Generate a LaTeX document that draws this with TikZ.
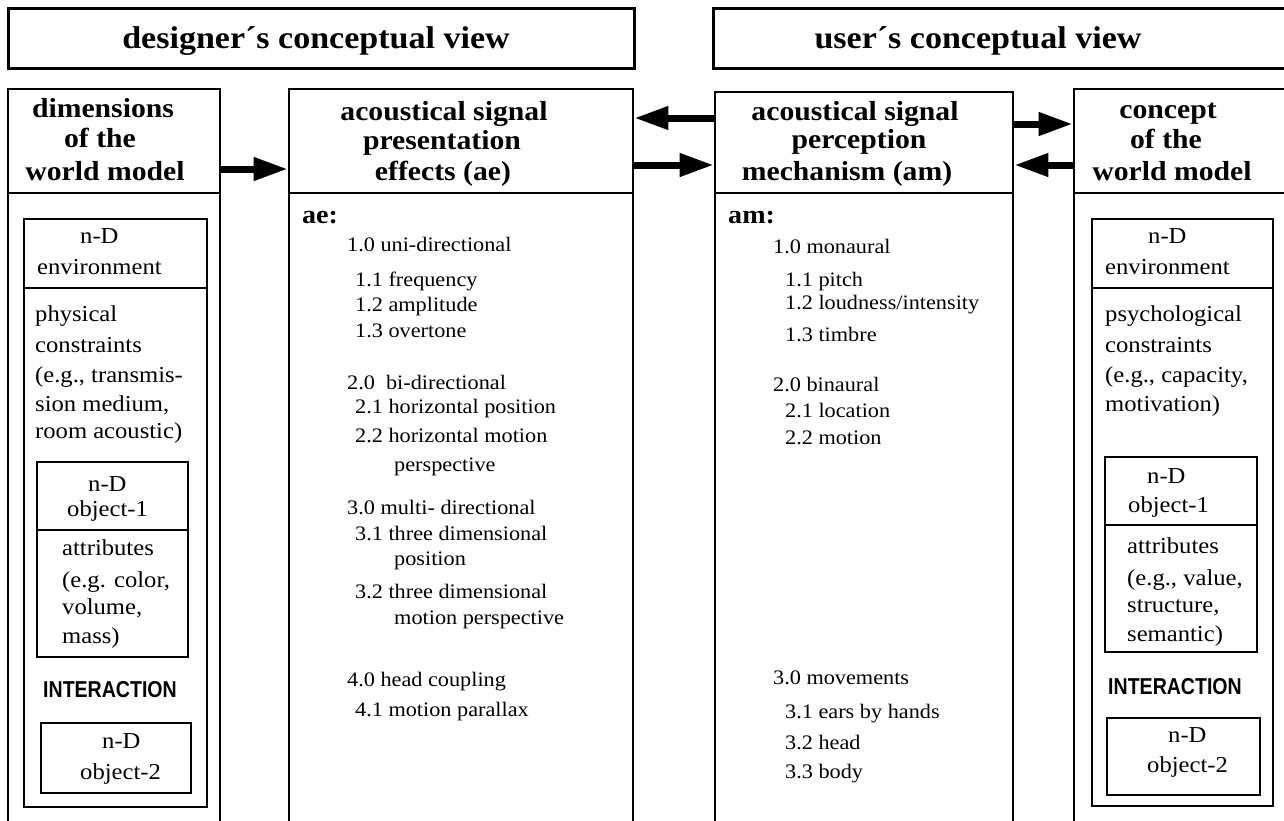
\documentclass[tikz,border=0pt]{standalone}
\usepackage{fontspec}
\setmainfont{Liberation Serif}[FakeStretch=1.08]
\newfontfamily\narrowsans{Liberation Sans}[FakeStretch=0.85]
\usetikzlibrary{arrows.meta, fit}

\begin{document}
\begin{tikzpicture}[
    x=1pt, y=-1pt,
    boxframe/.style={draw, line width=2.6pt, inner sep=0pt},
    titletxt/.style={anchor=base, inner sep=0pt, font=\bfseries\fontsize{31.5}{36}\selectfont},
    headtxt/.style={anchor=base, inner sep=0pt, font=\bfseries\fontsize{27.5}{31}\selectfont},
    tagtxt/.style={anchor=base west, inner sep=0pt, font=\bfseries\fontsize{26}{30}\selectfont},
    entry/.style={anchor=base west, inner sep=0pt, font=\fontsize{20.6}{24}\selectfont},
    coltxt/.style={anchor=base west, inner sep=0pt, font=\fontsize{22.8}{27}\selectfont},
    capstxt/.style={anchor=base west, inner sep=0pt, font=\narrowsans\bfseries\fontsize{23}{27}\selectfont},
    flow/.style={line width=7pt, -{Triangle[length=34pt, width=22pt]}}
]
    \useasboundingbox (0,0) rectangle (1284,820);
    \clip (0,0) rectangle (1284,820);

    % Title boxes
    \node[boxframe, line width=3pt, fit={(8,8) (634,68)}] (dview) {};
    \node[boxframe, line width=3pt, fit={(713,8) (1310,68)}] (uview) {};
    \node[titletxt] (dtitle) at (316,48) {designer´s conceptual view};
    \node[titletxt] (utitle) at (978,48) {user´s conceptual view};

    % Column headers
    \node[boxframe, fit={(8,89) (220,193)}] (dimhead) {};
    \node[boxframe, fit={(289,89) (633,193)}] (aehead) {};
    \node[boxframe, fit={(715,92) (1013,193)}] (amhead) {};
    \node[boxframe, fit={(1074,89) (1310,193)}] (conhead) {};
    \node[headtxt] (dim1) at (103,117) {dimensions};
    \node[headtxt] (dim2) at (100,147) {of the};
    \node[headtxt] (dim3) at (105,180) {world model};
    \node[headtxt] (aeh1) at (444,120) {acoustical signal};
    \node[headtxt] (aeh2) at (442,149) {presentation};
    \node[headtxt] (aeh3) at (443,180) {effects (ae)};
    \node[headtxt] (amh1) at (855,120) {acoustical signal};
    \node[headtxt] (amh2) at (859,148) {perception};
    \node[headtxt] (amh3) at (847,180) {mechanism (am)};
    \node[headtxt] (con1) at (1168,118) {concept};
    \node[headtxt] (con2) at (1166,148) {of the};
    \node[headtxt] (con3) at (1172,180) {world model};

    % Column bodies (open at the bottom)
    \node[boxframe, fit={(8,193) (220,850)}] (dimbody) {};
    \node[boxframe, fit={(289,193) (633,850)}] (aebody) {};
    \node[boxframe, fit={(715,193) (1013,850)}] (ambody) {};
    \node[boxframe, fit={(1074,193) (1310,850)}] (conbody) {};

    % Connections between the columns
    \draw[flow] (dimhead.east |- 0,169) -- (aehead.west |- 0,169);
    \draw[flow] (amhead.west |- 0,118) -- (aehead.east |- 0,118);
    \draw[flow] (aehead.east |- 0,165) -- (amhead.west |- 0,165);
    \draw[flow] (amhead.east |- 0,124) -- (conhead.west |- 0,124);
    \draw[flow] (conhead.west |- 0,165) -- (amhead.east |- 0,165);

    % Designer's world model
    \node[boxframe, fit={(24,219) (207,807)}] (dimin) {};
    \node[boxframe, fit={(24,219) (207,288)}] (denv) {};
    \node[coltxt] (denv1) at (80,243) {n-D};
    \node[coltxt] (denv2) at (37,274) {environment};
    \node[coltxt] (phy1) at (35,321) {physical};
    \node[coltxt] (phy2) at (35,352) {constraints};
    \node[coltxt] (phy3) at (35,382) {(e.g., transmis-};
    \node[coltxt] (phy4) at (35,411) {sion medium,};
    \node[coltxt] (phy5) at (35,438) {room acoustic)};
    \node[boxframe, fit={(37,462) (188,530)}] (dobj1) {};
    \node[boxframe, fit={(37,530) (188,657)}] (dattr) {};
    \node[coltxt] (dobj1a) at (88,491) {n-D};
    \node[coltxt] (dobj1b) at (67,516) {object-1};
    \node[coltxt] (dattr1) at (62,555) {attributes};
    \node[coltxt] (dattr2) at (62,587) {(e.g. color,};
    \node[coltxt] (dattr3) at (62,614) {volume,};
    \node[coltxt] (dattr4) at (62,643) {mass)};
    \node[capstxt] (dint) at (43,697) {INTERACTION};
    \node[boxframe, fit={(41,723) (191,793)}] (dobj2) {};
    \node[coltxt] (dobj2a) at (102,748) {n-D};
    \node[coltxt] (dobj2b) at (80,779) {object-2};

    % Presentation effects
    \node[tagtxt] (aetag) at (302,223) {ae:};
    \node[entry] (ae10) at (347,251) {1.0 uni-directional};
    \node[entry] (ae11) at (355,286) {1.1 frequency};
    \node[entry] (ae12) at (355,311) {1.2 amplitude};
    \node[entry] (ae13) at (355,337) {1.3 overtone};
    \node[entry] (ae20) at (347,389) {2.0~ bi-directional};
    \node[entry] (ae21) at (355,413) {2.1 horizontal position};
    \node[entry] (ae22) at (355,442) {2.2 horizontal motion};
    \node[entry] (ae22b) at (394,471) {perspective};
    \node[entry] (ae30) at (347,514) {3.0 multi- directional};
    \node[entry] (ae31) at (355,540) {3.1 three dimensional};
    \node[entry] (ae31b) at (394,565) {position};
    \node[entry] (ae32) at (355,598) {3.2 three dimensional};
    \node[entry] (ae32b) at (394,624) {motion perspective};
    \node[entry] (ae40) at (347,686) {4.0 head coupling};
    \node[entry] (ae41) at (355,716) {4.1 motion parallax};

    % Perception mechanism
    \node[tagtxt] (amtag) at (728,223) {am:};
    \node[entry] (am10) at (773,253) {1.0 monaural};
    \node[entry] (am11) at (785,286) {1.1 pitch};
    \node[entry] (am12) at (785,309) {1.2 loudness/intensity};
    \node[entry] (am13) at (785,341) {1.3 timbre};
    \node[entry] (am20) at (773,391) {2.0 binaural};
    \node[entry] (am21) at (785,417) {2.1 location};
    \node[entry] (am22) at (785,444) {2.2 motion};
    \node[entry] (am30) at (773,684) {3.0 movements};
    \node[entry] (am31) at (785,718) {3.1 ears by hands};
    \node[entry] (am32) at (785,749) {3.2 head};
    \node[entry] (am33) at (785,778) {3.3 body};

    % User's world model
    \node[boxframe, fit={(1092,219) (1273,806)}] (conin) {};
    \node[boxframe, fit={(1092,219) (1273,288)}] (uenv) {};
    \node[coltxt] (uenv1) at (1148,243) {n-D};
    \node[coltxt] (uenv2) at (1105,274) {environment};
    \node[coltxt] (psy1) at (1105,321) {psychological};
    \node[coltxt] (psy2) at (1105,352) {constraints};
    \node[coltxt] (psy3) at (1105,382) {(e.g., capacity,};
    \node[coltxt] (psy4) at (1105,411) {motivation)};
    \node[boxframe, fit={(1105,457) (1257,525)}] (uobj1) {};
    \node[boxframe, fit={(1105,525) (1257,652)}] (uattr) {};
    \node[coltxt] (uobj1a) at (1147,483) {n-D};
    \node[coltxt] (uobj1b) at (1128,512) {object-1};
    \node[coltxt] (uattr1) at (1127,553) {attributes};
    \node[coltxt] (uattr2) at (1127,585) {(e.g., value,};
    \node[coltxt] (uattr3) at (1127,612) {structure,};
    \node[coltxt] (uattr4) at (1127,641) {semantic)};
    \node[capstxt] (uint) at (1108,694) {INTERACTION};
    \node[boxframe, fit={(1107,718) (1260,795)}] (uobj2) {};
    \node[coltxt] (uobj2a) at (1168,742) {n-D};
    \node[coltxt] (uobj2b) at (1147,772) {object-2};
\end{tikzpicture}
\end{document}
